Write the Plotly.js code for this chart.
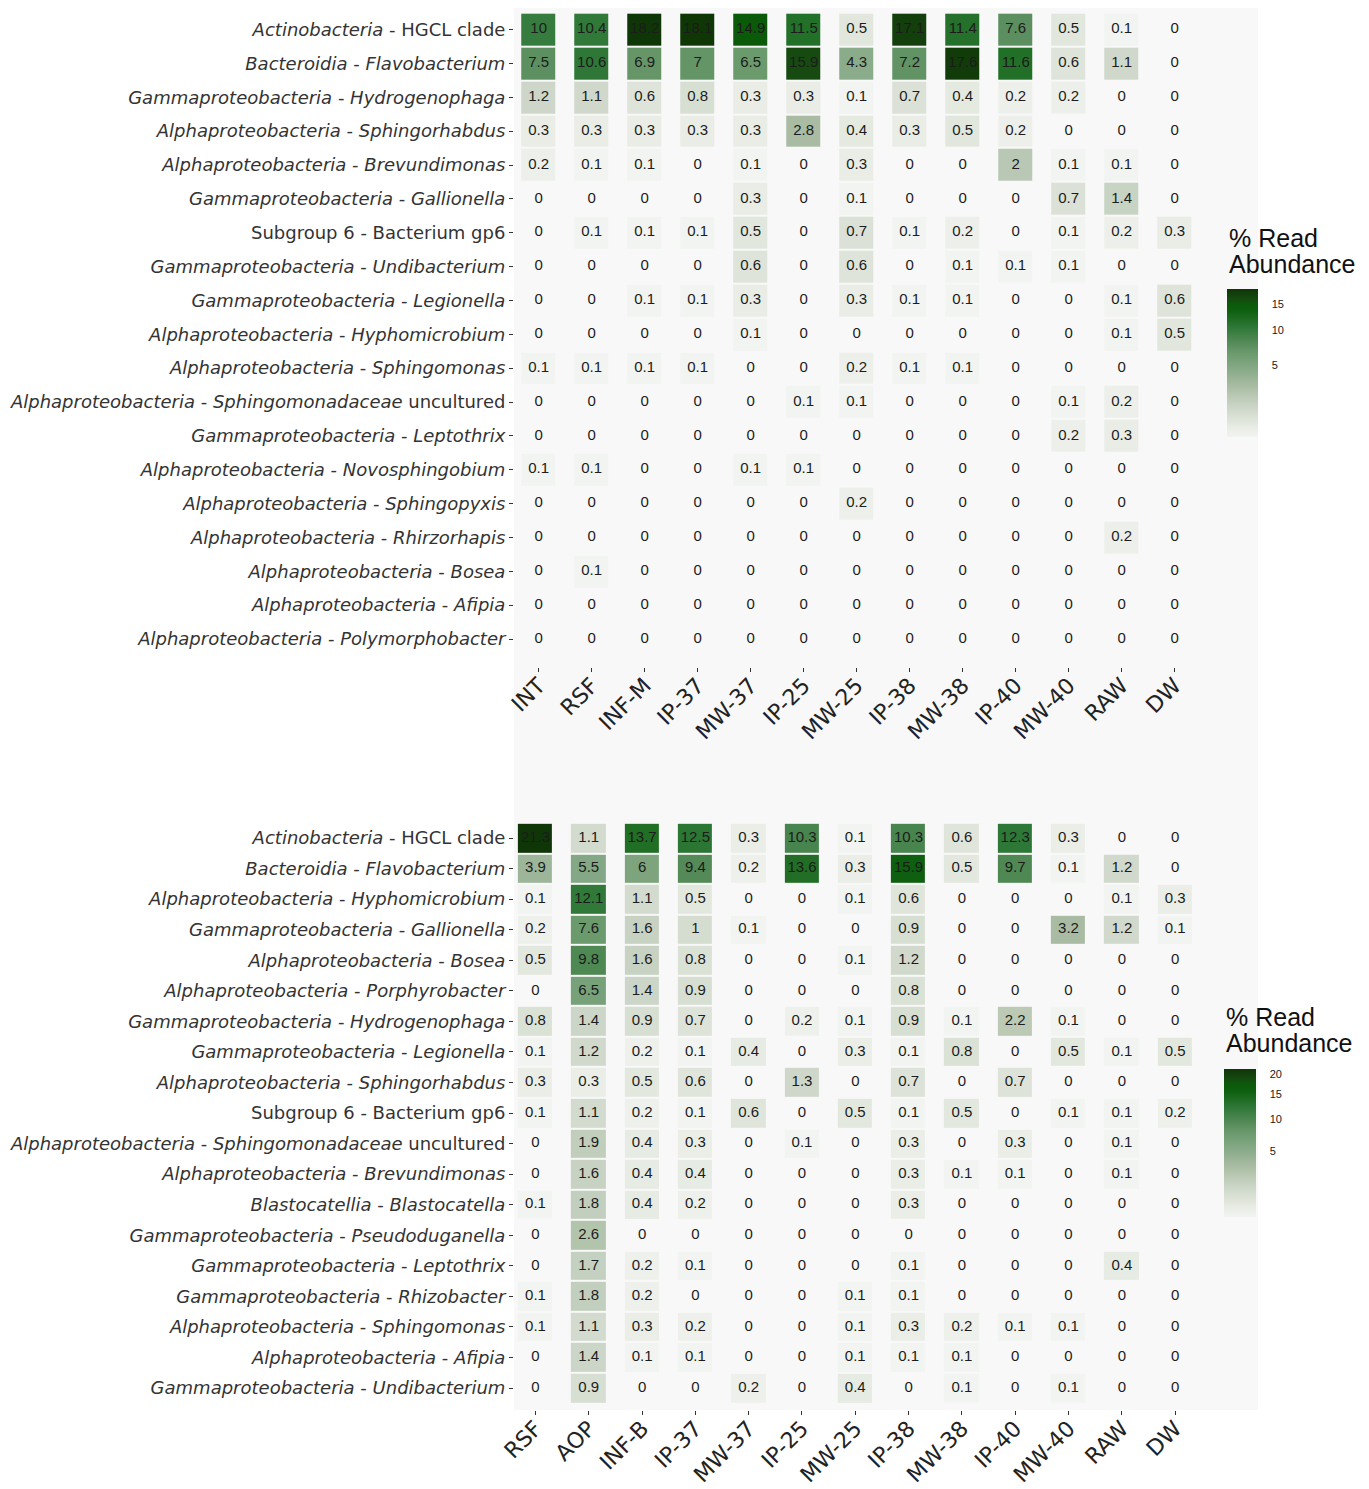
<!DOCTYPE html>
<html>
<head>
<meta charset="utf-8">
<script src="https://cdn.plot.ly/plotly-3.0.1.min.js"></script>
<style>html,body{margin:0;padding:0;background:#fff;}</style>
</head>
<body>
<div id="chart" style="width:1369px;height:1489px;"></div>
<script>
// ---------- DATA ----------
const colsTop = ['INT','RSF','INF-M','IP-37','MW-37','IP-25','MW-25','IP-38','MW-38','IP-40','MW-40','RAW','DW'];
const rowsTop = [
  'Actinobacteria - HGCL clade',
  'Bacteroidia - Flavobacterium',
  'Gammaproteobacteria - Hydrogenophaga',
  'Alphaproteobacteria - Sphingorhabdus',
  'Alphaproteobacteria - Brevundimonas',
  'Gammaproteobacteria - Gallionella',
  'Subgroup 6 - Bacterium gp6',
  'Gammaproteobacteria - Undibacterium',
  'Gammaproteobacteria - Legionella',
  'Alphaproteobacteria - Hyphomicrobium',
  'Alphaproteobacteria - Sphingomonas',
  'Alphaproteobacteria - Sphingomonadaceae uncultured',
  'Gammaproteobacteria - Leptothrix',
  'Alphaproteobacteria - Novosphingobium',
  'Alphaproteobacteria - Sphingopyxis',
  'Alphaproteobacteria - Rhirzorhapis',
  'Alphaproteobacteria - Bosea',
  'Alphaproteobacteria - Afipia',
  'Alphaproteobacteria - Polymorphobacter'
];
const valsTop = [
  [10, 10.4, 18.2, 18.1, 14.9, 11.5, 0.5, 17.1, 11.4, 7.6, 0.5, 0.1, 0],
  [7.5, 10.6, 6.9, 7, 6.5, 15.9, 4.3, 7.2, 17.6, 11.6, 0.6, 1.1, 0],
  [1.2, 1.1, 0.6, 0.8, 0.3, 0.3, 0.1, 0.7, 0.4, 0.2, 0.2, 0, 0],
  [0.3, 0.3, 0.3, 0.3, 0.3, 2.8, 0.4, 0.3, 0.5, 0.2, 0, 0, 0],
  [0.2, 0.1, 0.1, 0, 0.1, 0, 0.3, 0, 0, 2, 0.1, 0.1, 0],
  [0, 0, 0, 0, 0.3, 0, 0.1, 0, 0, 0, 0.7, 1.4, 0],
  [0, 0.1, 0.1, 0.1, 0.5, 0, 0.7, 0.1, 0.2, 0, 0.1, 0.2, 0.3],
  [0, 0, 0, 0, 0.6, 0, 0.6, 0, 0.1, 0.1, 0.1, 0, 0],
  [0, 0, 0.1, 0.1, 0.3, 0, 0.3, 0.1, 0.1, 0, 0, 0.1, 0.6],
  [0, 0, 0, 0, 0.1, 0, 0, 0, 0, 0, 0, 0.1, 0.5],
  [0.1, 0.1, 0.1, 0.1, 0, 0, 0.2, 0.1, 0.1, 0, 0, 0, 0],
  [0, 0, 0, 0, 0, 0.1, 0.1, 0, 0, 0, 0.1, 0.2, 0],
  [0, 0, 0, 0, 0, 0, 0, 0, 0, 0, 0.2, 0.3, 0],
  [0.1, 0.1, 0, 0, 0.1, 0.1, 0, 0, 0, 0, 0, 0, 0],
  [0, 0, 0, 0, 0, 0, 0.2, 0, 0, 0, 0, 0, 0],
  [0, 0, 0, 0, 0, 0, 0, 0, 0, 0, 0, 0.2, 0],
  [0, 0.1, 0, 0, 0, 0, 0, 0, 0, 0, 0, 0, 0],
  [0, 0, 0, 0, 0, 0, 0, 0, 0, 0, 0, 0, 0],
  [0, 0, 0, 0, 0, 0, 0, 0, 0, 0, 0, 0, 0]
];

const colsBottom = ['RSF','AOP','INF-B','IP-37','MW-37','IP-25','MW-25','IP-38','MW-38','IP-40','MW-40','RAW','DW'];
const rowsBottom = [
  'Actinobacteria - HGCL clade',
  'Bacteroidia - Flavobacterium',
  'Alphaproteobacteria - Hyphomicrobium',
  'Gammaproteobacteria - Gallionella',
  'Alphaproteobacteria - Bosea',
  'Alphaproteobacteria - Porphyrobacter',
  'Gammaproteobacteria - Hydrogenophaga',
  'Gammaproteobacteria - Legionella',
  'Alphaproteobacteria - Sphingorhabdus',
  'Subgroup 6 - Bacterium gp6',
  'Alphaproteobacteria - Sphingomonadaceae uncultured',
  'Alphaproteobacteria - Brevundimonas',
  'Blastocatellia - Blastocatella',
  'Gammaproteobacteria - Pseudoduganella',
  'Gammaproteobacteria - Leptothrix',
  'Gammaproteobacteria - Rhizobacter',
  'Alphaproteobacteria - Sphingomonas',
  'Alphaproteobacteria - Afipia',
  'Gammaproteobacteria - Undibacterium'
];
const valsBottom = [
  [21.3, 1.1, 13.7, 12.5, 0.3, 10.3, 0.1, 10.3, 0.6, 12.3, 0.3, 0, 0],
  [3.9, 5.5, 6, 9.4, 0.2, 13.6, 0.3, 15.9, 0.5, 9.7, 0.1, 1.2, 0],
  [0.1, 12.1, 1.1, 0.5, 0, 0, 0.1, 0.6, 0, 0, 0, 0.1, 0.3],
  [0.2, 7.6, 1.6, 1, 0.1, 0, 0, 0.9, 0, 0, 3.2, 1.2, 0.1],
  [0.5, 9.8, 1.6, 0.8, 0, 0, 0.1, 1.2, 0, 0, 0, 0, 0],
  [0, 6.5, 1.4, 0.9, 0, 0, 0, 0.8, 0, 0, 0, 0, 0],
  [0.8, 1.4, 0.9, 0.7, 0, 0.2, 0.1, 0.9, 0.1, 2.2, 0.1, 0, 0],
  [0.1, 1.2, 0.2, 0.1, 0.4, 0, 0.3, 0.1, 0.8, 0, 0.5, 0.1, 0.5],
  [0.3, 0.3, 0.5, 0.6, 0, 1.3, 0, 0.7, 0, 0.7, 0, 0, 0],
  [0.1, 1.1, 0.2, 0.1, 0.6, 0, 0.5, 0.1, 0.5, 0, 0.1, 0.1, 0.2],
  [0, 1.9, 0.4, 0.3, 0, 0.1, 0, 0.3, 0, 0.3, 0, 0.1, 0],
  [0, 1.6, 0.4, 0.4, 0, 0, 0, 0.3, 0.1, 0.1, 0, 0.1, 0],
  [0.1, 1.8, 0.4, 0.2, 0, 0, 0, 0.3, 0, 0, 0, 0, 0],
  [0, 2.6, 0, 0, 0, 0, 0, 0, 0, 0, 0, 0, 0],
  [0, 1.7, 0.2, 0.1, 0, 0, 0, 0.1, 0, 0, 0, 0.4, 0],
  [0.1, 1.8, 0.2, 0, 0, 0, 0.1, 0.1, 0, 0, 0, 0, 0],
  [0.1, 1.1, 0.3, 0.2, 0, 0, 0.1, 0.3, 0.2, 0.1, 0.1, 0, 0],
  [0, 1.4, 0.1, 0.1, 0, 0, 0.1, 0.1, 0.1, 0, 0, 0, 0],
  [0, 0.9, 0, 0, 0.2, 0, 0.4, 0, 0.1, 0, 0.1, 0, 0]
];

const cbTicksTop = [5, 10, 15];
const cbTicksBottom = [5, 10, 15, 20];
const legendTitleLines = ['% Read', 'Abundance'];
const uprightParts = ['Subgroup 6', 'HGCL clade', 'Bacterium gp6'];

// ---------- STYLE ----------
const colorscale = [
  [0.00, '#f1f4f0'],
  [0.06, '#e9ede6'],
  [0.12, '#dde3d8'],
  [0.20, '#ccd6c8'],
  [0.28, '#b9c8b3'],
  [0.35, '#a7bba1'],
  [0.45, '#8aab8a'],
  [0.57, '#6a9a6c'],
  [0.62, '#5b8e5e'],
  [0.74, '#2f7838'],
  [0.79, '#206d24'],
  [0.86, '#0d5e0e'],
  [0.90, '#0a5a0a'],
  [0.93, '#164a10'],
  [1.00, '#0f3606']
];
const W = 1369, H = 1489;
const px = v => v / W;
const py = v => 1 - v / H;

function fmtLabel(label) {
  return label.split(' - ').map(part => {
    if (uprightParts.includes(part)) return part;
    if (part.endsWith(' uncultured')) return '<i>' + part.replace(' uncultured', '') + '</i> uncultured';
    return '<i>' + part + '</i>';
  }).join(' - ');
}

function heat(cols, rows, vals, xa, ya, cb, ticks) {
  const z = vals.map(r => r.map(v => v > 0 ? Math.sqrt(v) : null));
  const mx = Math.max(...vals.flat());
  return {
    type: 'heatmap', x: cols, y: rows, z: z, xaxis: xa, yaxis: ya,
    zmin: Math.sqrt(0.1), zmax: Math.sqrt(mx),
    colorscale: colorscale, xgap: 19, ygap: 2, hoverinfo: 'skip',
    colorbar: Object.assign({
      thickness: 31, thicknessmode: 'pixels', len: 148, lenmode: 'pixels',
      xanchor: 'left', yanchor: 'top', xpad: 0, ypad: 0, outlinewidth: 0,
      tickmode: 'array', tickvals: ticks.map(Math.sqrt), ticktext: ticks.map(String),
      ticks: 'outside', ticklen: 12, tickcolor: 'rgba(0,0,0,0)',
      tickfont: {family: 'Liberation Sans, Arial, sans-serif', size: 11, color: '#1a1a1a'}
    }, cb)
  };
}

function labels(cols, rows, vals, xa, ya) {
  const x = [], y = [], t = [];
  rows.forEach((r, i) => cols.forEach((c, j) => { x.push(c); y.push(r); t.push(String(vals[i][j])); }));
  return {
    type: 'scatter', mode: 'text', x: x, y: y, text: t, xaxis: xa, yaxis: ya,
    textposition: 'middle center', hoverinfo: 'skip', showlegend: false,
    textfont: {family: 'Liberation Sans, Arial, sans-serif', size: 15, color: '#1c1c1c'}
  };
}

const data = [
  heat(colsTop, rowsTop, valsTop, 'x', 'y', {x: px(1227), y: py(289)}, cbTicksTop),
  labels(colsTop, rowsTop, valsTop, 'x', 'y'),
  heat(colsBottom, rowsBottom, valsBottom, 'x2', 'y2', {x: px(1224), y: py(1069), thickness: 32}, cbTicksBottom),
  labels(colsBottom, rowsBottom, valsBottom, 'x2', 'y2')
];

const xTickFont = {family: 'DejaVu Sans, Verdana, sans-serif', size: 22, color: '#222222'};
const yTickFont = {family: 'DejaVu Sans, Verdana, sans-serif', size: 18, color: '#333333'};
const baseX = {type: 'category', categoryorder: 'array', tickangle: -45, ticks: 'outside', ticklen: 4,
  ticklabelstandoff: -8,
  tickcolor: '#333', tickfont: xTickFont, showgrid: false, zeroline: false, showline: false, automargin: false, fixedrange: true};
const baseY = {type: 'category', categoryorder: 'array', ticks: 'outside', ticklen: 4, tickcolor: '#333',
  tickfont: yTickFont, showgrid: false, zeroline: false, showline: false, automargin: false, fixedrange: true, tickmode: 'array'};

const titleFont = {family: 'Liberation Sans, Arial, sans-serif', size: 25, color: '#111'};
const annotations = [
  {text: legendTitleLines[0], x: px(1227), y: py(238)},
  {text: legendTitleLines[1], x: px(1227), y: py(264)},
  {text: legendTitleLines[0], x: px(1224), y: py(1017)},
  {text: legendTitleLines[1], x: px(1224), y: py(1043)}
].map(a => Object.assign({xref: 'paper', yref: 'paper', xanchor: 'left', yanchor: 'middle', showarrow: false, font: titleFont}, a));

const layout = {
  width: W, height: H,
  margin: {l: 0, r: 0, t: 0, b: 0, pad: 0},
  paper_bgcolor: '#ffffff', plot_bgcolor: 'rgba(0,0,0,0)',
  showlegend: false,
  shapes: [{type: 'rect', xref: 'paper', yref: 'paper', layer: 'below',
    x0: px(514), x1: px(1258), y0: py(1410), y1: py(8), fillcolor: '#f8f8f8', line: {width: 0}}],
  xaxis: Object.assign({}, baseX, {domain: [px(514), px(1258)], anchor: 'y', categoryarray: colsTop, range: [-0.466, 13.572]}),
  yaxis: Object.assign({}, baseY, {domain: [py(667), py(8.7)], anchor: 'x', categoryarray: rowsTop,
    range: [18.826, -0.617], tickvals: rowsTop, ticktext: rowsTop.map(fmtLabel)}),
  xaxis2: Object.assign({}, baseX, {domain: [px(514), px(1258)], anchor: 'y2', categoryarray: colsBottom, range: [-0.403, 13.555]}),
  yaxis2: Object.assign({}, baseY, {domain: [py(1410), py(819.7)], anchor: 'x2', categoryarray: rowsBottom,
    range: [18.72, -0.6], tickvals: rowsBottom, ticktext: rowsBottom.map(fmtLabel)}),
  annotations: annotations
};

Plotly.newPlot('chart', data, layout, {displayModeBar: false, staticPlot: true});
</script>
</body>
</html>
